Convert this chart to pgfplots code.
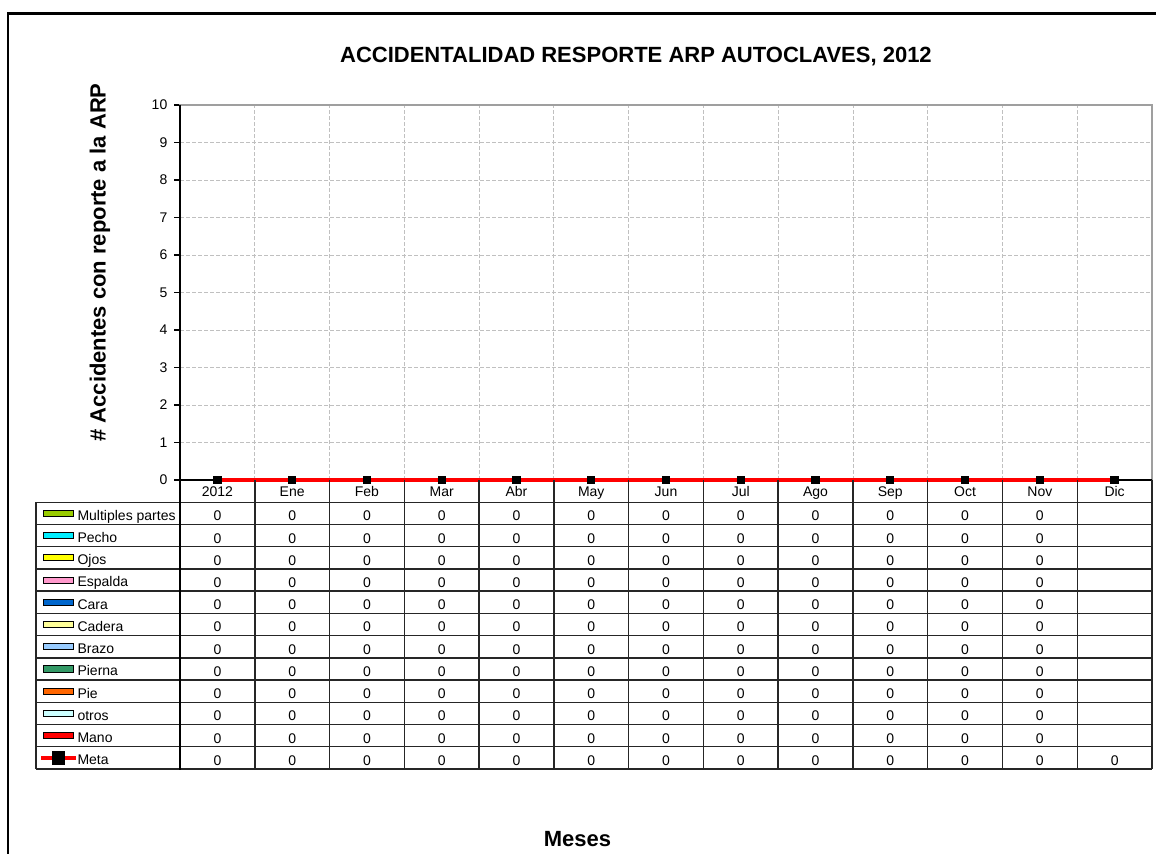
\documentclass[border=0pt]{standalone}
\usepackage{fontspec}
\setmainfont{Liberation Sans}
\usepackage{pgfplots}
\pgfplotsset{compat=1.18}

\definecolor{cMult}{RGB}{153,204,0}
\definecolor{cPecho}{RGB}{0,238,255}
\definecolor{cOjos}{RGB}{255,255,0}
\definecolor{cEsp}{RGB}{255,153,204}
\definecolor{cCara}{RGB}{0,102,204}
\definecolor{cCad}{RGB}{255,255,153}
\definecolor{cBrazo}{RGB}{153,204,255}
\definecolor{cPierna}{RGB}{51,153,102}
\definecolor{cPie}{RGB}{255,102,0}
\definecolor{cOtros}{RGB}{204,255,255}
\definecolor{cMano}{RGB}{255,0,0}
\definecolor{gridgray}{RGB}{192,192,192}

% zero-height bars: only their key shows
\pgfplotsset{
  tkey/.style={ybar, bar width=0.5, draw=black, line width=0.5pt, fill=#1,
    legend image code/.code={\draw[fill=#1, draw=black, line width=0.75pt]
      (0pt,-2.3pt) rectangle (22.5pt,2.3pt);}},
}

\begin{document}
\begin{tikzpicture}
% 1 px of the reference = 0.75pt
\begin{scope}[x=0.75pt, y=-0.75pt]
  \useasboundingbox (0,0) rectangle (1156,853);
  \draw[line width=1.7pt] (1170,13.5) -- (8.3,13.5) -- (8.3,870);
\end{scope}

\begin{axis}[
  at={(135pt,-360pt)}, anchor=south west,
  scale only axis, width=729pt, height=281.25pt,
  xmin=-0.5, xmax=12.5, ymin=0, ymax=10,
  xtick={0,...,12},
  xticklabels={2012,Ene,Feb,Mar,Abr,May,Jun,Jul,Ago,Sep,Oct,Nov,Dic},
  minor xtick={0.5,1.5,...,11.5},
  ytick={0,...,10},
  xminorgrids=true, ymajorgrids=true,
  grid style={gridgray, dash pattern=on 3pt off 1.5pt, line width=0.6pt},
  minor grid style={gridgray, dash pattern=on 3pt off 1.5pt, line width=0.6pt},
  tick align=outside, tick pos=left,
  x tick style={draw=none}, minor x tick style={draw=none},
  y tick style={black, line width=0.8pt}, major tick length=4.5pt,
  axis line style={draw=gray!75, line width=1.1pt},
  tick label style={font=\fontsize{10.5pt}{12pt}\selectfont, black},
  /pgf/number format/assume math mode=true,
  xticklabel style={anchor=base, yshift=-8pt},
  yticklabel style={xshift=-1.5pt},
  title={ACCIDENTALIDAD RESPORTE ARP AUTOCLAVES, 2012},
  title style={at={(axis description cs:0.4691,1.093)}, anchor=base, yshift=0pt,
               font=\bfseries\fontsize{16.5pt}{18pt}\selectfont},
  xlabel={Meses},
  xlabel style={at={(axis description cs:0.4090,-0.976)}, anchor=base,
                font=\bfseries\fontsize{16.5pt}{18pt}\selectfont},
  ylabel={\# Accidentes con reporte a la ARP},
  ylabel style={at={(axis description cs:-0.0766,0.58)}, anchor=base,
                font=\bfseries\fontsize{16.5pt}{18pt}\selectfont},
  clip=false,
  legend cell align=left,
  legend style={at={(axis description cs:-0.14506,-0.0587)}, anchor=north west,
                draw=none, fill=none, inner sep=0pt, row sep=0pt, column sep=0pt,
                font=\fontsize{10.5pt}{12pt}\selectfont,
                nodes={inner xsep=0pt, inner ysep=0pt, text height=13.5pt,
                       text depth=3.17pt, anchor=west}},
]

\addplot[tkey=cMult] coordinates {(0,0) (1,0) (2,0) (3,0) (4,0) (5,0) (6,0) (7,0) (8,0) (9,0) (10,0) (11,0)};
\addlegendentry{Multiples partes}
\addplot[tkey=cPecho] coordinates {(0,0) (1,0) (2,0) (3,0) (4,0) (5,0) (6,0) (7,0) (8,0) (9,0) (10,0) (11,0)};
\addlegendentry{Pecho}
\addplot[tkey=cOjos] coordinates {(0,0) (1,0) (2,0) (3,0) (4,0) (5,0) (6,0) (7,0) (8,0) (9,0) (10,0) (11,0)};
\addlegendentry{Ojos}
\addplot[tkey=cEsp] coordinates {(0,0) (1,0) (2,0) (3,0) (4,0) (5,0) (6,0) (7,0) (8,0) (9,0) (10,0) (11,0)};
\addlegendentry{Espalda}
\addplot[tkey=cCara] coordinates {(0,0) (1,0) (2,0) (3,0) (4,0) (5,0) (6,0) (7,0) (8,0) (9,0) (10,0) (11,0)};
\addlegendentry{Cara}
\addplot[tkey=cCad] coordinates {(0,0) (1,0) (2,0) (3,0) (4,0) (5,0) (6,0) (7,0) (8,0) (9,0) (10,0) (11,0)};
\addlegendentry{Cadera}
\addplot[tkey=cBrazo] coordinates {(0,0) (1,0) (2,0) (3,0) (4,0) (5,0) (6,0) (7,0) (8,0) (9,0) (10,0) (11,0)};
\addlegendentry{Brazo}
\addplot[tkey=cPierna] coordinates {(0,0) (1,0) (2,0) (3,0) (4,0) (5,0) (6,0) (7,0) (8,0) (9,0) (10,0) (11,0)};
\addlegendentry{Pierna}
\addplot[tkey=cPie] coordinates {(0,0) (1,0) (2,0) (3,0) (4,0) (5,0) (6,0) (7,0) (8,0) (9,0) (10,0) (11,0)};
\addlegendentry{Pie}
\addplot[tkey=cOtros] coordinates {(0,0) (1,0) (2,0) (3,0) (4,0) (5,0) (6,0) (7,0) (8,0) (9,0) (10,0) (11,0)};
\addlegendentry{otros}
\addplot[tkey=cMano] coordinates {(0,0) (1,0) (2,0) (3,0) (4,0) (5,0) (6,0) (7,0) (8,0) (9,0) (10,0) (11,0)};
\addlegendentry{Mano}

% left and bottom axis lines are black
\draw[black, line width=1.1pt] (rel axis cs:0,0) -- (rel axis cs:1,0);
\draw[black, line width=2pt] (rel axis cs:0,0) -- (rel axis cs:0,1);

\addplot[red, line width=3pt, mark=square*, mark size=2.75pt,
         mark options={black, fill=black, line width=0pt},
         legend image code/.code={
           \draw[red, line width=3pt] (-1.7pt,0pt) -- (24pt,0pt);
           \fill[black] (7.6pt,-3.5pt) rectangle (14.6pt,3.5pt);}]
  coordinates {(0,0) (1,0) (2,0) (3,0) (4,0) (5,0) (6,0) (7,0) (8,0) (9,0) (10,0) (11,0) (12,0)};
\addlegendentry{Meta}
\end{axis}

% data table under the plot
\begin{scope}[x=0.75pt, y=-0.75pt, font=\fontsize{10.5pt}{12pt}\selectfont]
  \foreach \k in {0,...,12}
    \draw[black!85, line width=1.1pt] (36,{502.3+22.22*\k}) -- (1152,{502.3+22.22*\k});
  \draw[black!85, line width=1.1pt] (36,502.3) -- (36,769);
  \foreach \j in {1,...,13}
    \draw[black!85, line width=1.1pt] ({180+74.77*\j},480) -- ({180+74.77*\j},769);
  \draw[black, line width=2pt] (180,480) -- (180,769.5);
  \foreach \r in {0,...,10}
    \foreach \c in {0,...,11}
      \node[anchor=base, inner sep=0pt] at ({217.4+74.77*\c},{502.3+22.22*\r+18.5}) {0};
  \foreach \c in {0,...,12}
    \node[anchor=base, inner sep=0pt] at ({217.4+74.77*\c},{502.3+22.22*11+18.5}) {0};
\end{scope}
\end{tikzpicture}
\end{document}
